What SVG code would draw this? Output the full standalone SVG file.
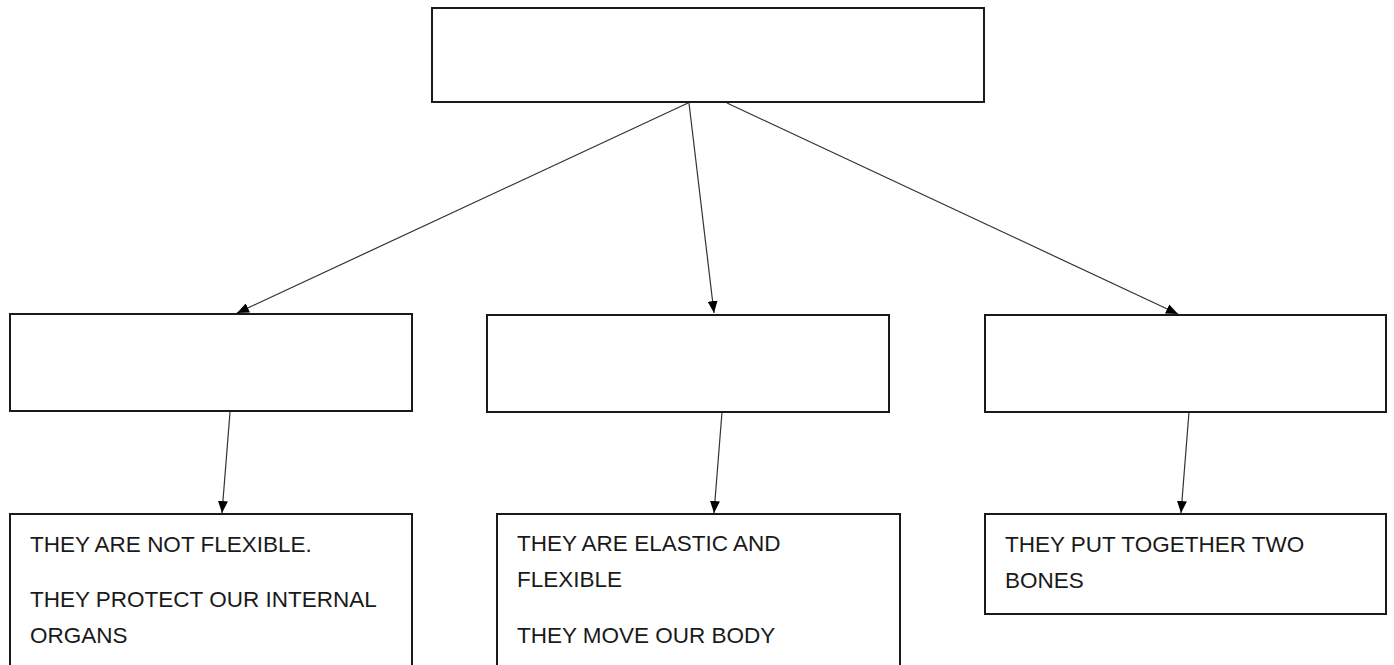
<svg xmlns="http://www.w3.org/2000/svg" width="1394" height="665" viewBox="0 0 1394 665">
<style>
.box{fill:#fff;stroke:#1a1a1a;stroke-width:2}
.con{stroke:#333;stroke-width:1.2;fill:none}
.t{font-family:"Liberation Sans",Arial,sans-serif;font-size:22.5px;fill:#1a1a1a}
</style>
<defs>
<marker id="arr" viewBox="0 0 12 10" refX="12" refY="5" markerWidth="12" markerHeight="10" markerUnits="userSpaceOnUse" orient="auto">
<path d="M0,0 L12,5 L0,10 Z" fill="#000"/>
</marker>
</defs>
<rect width="1394" height="665" fill="#fff"/>
<g id="connectors">
<line class="con" x1="688" y1="103" x2="237" y2="313" marker-end="url(#arr)"/>
<line class="con" x1="689" y1="103" x2="714" y2="313" marker-end="url(#arr)"/>
<line class="con" x1="727" y1="103" x2="1178" y2="314" marker-end="url(#arr)"/>
<line class="con" x1="230" y1="412" x2="222" y2="513" marker-end="url(#arr)"/>
<line class="con" x1="722" y1="412" x2="714" y2="513" marker-end="url(#arr)"/>
<line class="con" x1="1189" y1="412" x2="1181" y2="513" marker-end="url(#arr)"/>
</g>
<g id="top"><rect class="box" x="432" y="8" width="552" height="94"/></g>
<g id="mid-left"><rect class="box" x="10" y="314" width="402" height="97"/></g>
<g id="mid-center"><rect class="box" x="487" y="315" width="402" height="97"/></g>
<g id="mid-right"><rect class="box" x="985" y="315" width="401" height="97"/></g>
<g id="bottom-left">
<rect class="box" x="10" y="514" width="402" height="160"/>
<text class="t" x="30" y="552">THEY ARE NOT FLEXIBLE.</text>
<text class="t" x="30" y="607">THEY PROTECT OUR INTERNAL</text>
<text class="t" x="30" y="643">ORGANS</text>
</g>
<g id="bottom-center">
<rect class="box" x="497" y="514" width="403" height="160"/>
<text class="t" x="517" y="551">THEY ARE ELASTIC AND</text>
<text class="t" x="517" y="587">FLEXIBLE</text>
<text class="t" x="517" y="643">THEY MOVE OUR BODY</text>
</g>
<g id="bottom-right">
<rect class="box" x="985" y="514" width="401" height="100"/>
<text class="t" x="1005" y="552">THEY PUT TOGETHER TWO</text>
<text class="t" x="1005" y="588">BONES</text>
</g>
</svg>
